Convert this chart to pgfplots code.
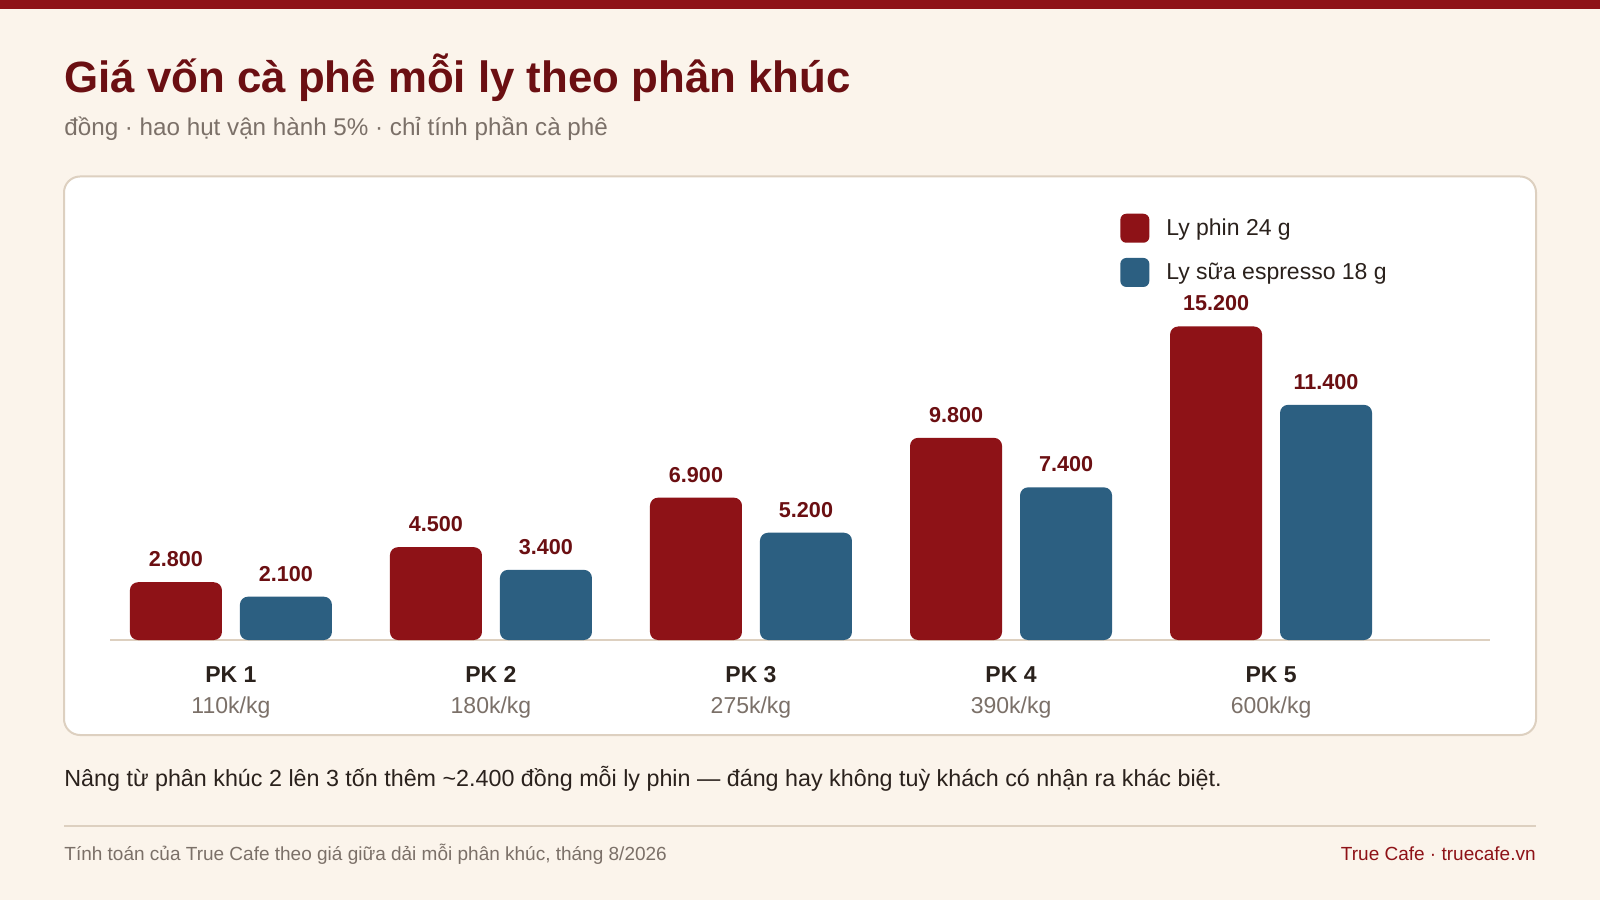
\documentclass[border=0pt]{standalone}
\usepackage{fontspec}
\setmainfont{Liberation Sans}
\usepackage{pgfplots}
\pgfplotsset{compat=1.18}

\definecolor{bgcream}{HTML}{FBF4EB}
\definecolor{phin}{HTML}{8E1217}
\definecolor{espresso}{HTML}{2C5F81}
\definecolor{maroon}{HTML}{6B0F12}
\definecolor{inkdark}{HTML}{2A211C}
\definecolor{muted}{HTML}{7B7068}
\definecolor{rulec}{HTML}{DDD0C0}

\pgfplotsset{sqlegend/.style={legend image code/.code={%
  \fill[##1, draw=none, rounded corners=3pt] (0pt,-7.25pt) rectangle (14.5pt,7.25pt);}}}

\begin{document}
\begin{tikzpicture}
\fill[bgcream] (0,0) rectangle (800pt,450pt);
\path[use as bounding box] (0,0) rectangle (800pt,450pt);
\fill[phin] (0,445.4pt) rectangle (800pt,450pt);
% card
\draw[rulec, line width=1pt, fill=white, rounded corners=8pt] (32pt,82.5pt) rectangle (768pt,361.75pt);

\node[anchor=base west, inner sep=0pt, font=\fontsize{21.9}{26}\selectfont\bfseries, text=maroon] at (32pt,403.5pt) {Giá vốn cà phê mỗi ly theo phân khúc};
\node[anchor=base west, inner sep=0pt, font=\fontsize{12.1}{14}\selectfont, text=muted] at (32pt,382pt) {đồng · hao hụt vận hành 5\% · chỉ tính phần cà phê};

\begin{axis}[
  at={(55pt,130pt)}, anchor=south west,
  scale only axis, width=690pt, height=206.25pt,
  xmin=-0.465, xmax=4.842, ymin=0, ymax=20000,
  enlargelimits=false,
  ybar=9pt, bar width=46pt,
  every axis plot post/.append style={sqlegend},
  axis y line=none, axis x line*=bottom,
  x axis line style={rulec, line width=1pt, -},
  xtick={0,1,2,3,4},
  xticklabels={
    {\textbf{PK 1}\\[2pt]{\color{muted}110k/kg}},
    {\textbf{PK 2}\\[2pt]{\color{muted}180k/kg}},
    {\textbf{PK 3}\\[2pt]{\color{muted}275k/kg}},
    {\textbf{PK 4}\\[2pt]{\color{muted}390k/kg}},
    {\textbf{PK 5}\\[2pt]{\color{muted}600k/kg}}},
  xticklabel style={align=center, font=\fontsize{11.5}{13.5}\selectfont, text=inkdark, yshift=-9.6pt},
  major tick length=0pt, ytick=\empty,
  clip=false,
  nodes near coords={\pgfmathprintnumber[fixed,precision=0,1000 sep={.},assume math mode=true]{\pgfplotspointmeta}},
  every node near coord/.append style={font=\fontsize{10.8}{13}\selectfont\bfseries, text=maroon, inner sep=0pt, anchor=south, yshift=7.5pt},
  legend style={at={(0.7275,1.044)}, anchor=north west, draw=none, fill=none,
    font=\fontsize{11.5}{14}\selectfont, text=inkdark, row sep=7.6pt,
    /tikz/every odd column/.append style={column sep=6.5pt}},
  legend cell align=left,
]
\addplot[fill=phin, draw=none, rounded corners=4pt] coordinates {(0,2800) (1,4500) (2,6900) (3,9800) (4,15200)};
\addplot[fill=espresso, draw=none, rounded corners=4pt] coordinates {(0,2100) (1,3400) (2,5200) (3,7400) (4,11400)};
\legend{Ly phin 24 g, Ly sữa espresso 18 g}
\end{axis}

\node[anchor=base west, inner sep=0pt, font=\fontsize{11.65}{14}\selectfont, text=inkdark] at (32pt,56.6pt) {Nâng từ phân khúc 2 lên 3 tốn thêm \textasciitilde2.400 đồng mỗi ly phin — đáng hay không tuỳ khách có nhận ra khác biệt.};
\draw[rulec, line width=1pt] (32pt,37.2pt) -- (768pt,37.2pt);
\node[anchor=base west, inner sep=0pt, font=\fontsize{9.5}{11}\selectfont, text=muted] at (32pt,20pt) {Tính toán của True Cafe theo giá giữa dải mỗi phân khúc, tháng 8/2026};
\node[anchor=base east, inner sep=0pt, font=\fontsize{9.5}{11}\selectfont, text=phin] at (768pt,20pt) {True Cafe · truecafe.vn};
\end{tikzpicture}
\end{document}
